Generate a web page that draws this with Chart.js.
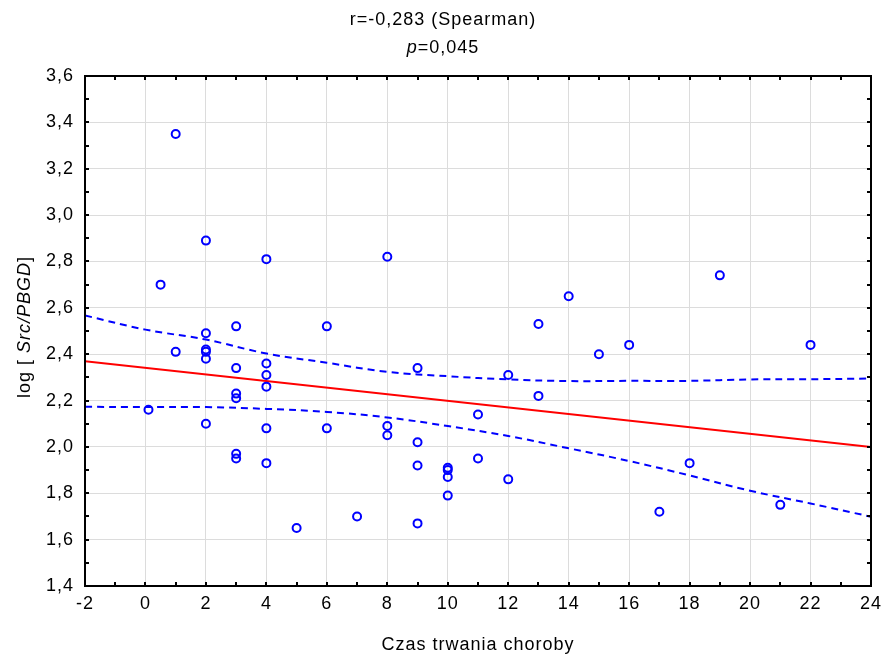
<!DOCTYPE html>
<html>
<head>
<meta charset="utf-8">
<script src="https://cdn.jsdelivr.net/npm/chart.js@4.4.1/dist/chart.umd.min.js"></script>
<style>
  html, body { margin: 0; padding: 0; background: #fff; }
  #wrap { width: 886px; height: 658px; }
</style>
</head>
<body>
<div id="wrap"><canvas id="chart"></canvas></div>
<script>
// dane
const czas = [0.1, 0.5, 1, 1, 2, 2, 2, 2, 2, 2, 3, 3, 3, 3, 3, 3, 4, 4, 4, 4, 4, 4,
  5, 6, 6, 7, 8, 8, 8, 9, 9, 9, 9, 10, 10, 10, 10, 11, 11, 12, 12, 13, 13, 14, 15,
  16, 17, 18, 19, 21, 22];
const logSrc = [2.16, 2.70, 3.35, 2.41, 2.89, 2.49, 2.42, 2.41, 2.38, 2.10, 2.52, 2.34,
  2.23, 2.21, 1.97, 1.95, 2.81, 2.36, 2.31, 2.26, 2.08, 1.93, 1.65, 2.52, 2.08, 1.70,
  2.82, 2.09, 2.05, 2.34, 2.02, 1.92, 1.67, 1.91, 1.90, 1.87, 1.79, 2.14, 1.95, 2.31,
  1.86, 2.53, 2.22, 2.65, 2.40, 2.44, 1.72, 1.93, 2.74, 1.75, 2.44];

// prosta regresji (końce)
const regX = [-2, 24];
const regY = [2.37, 2.00];

// przedział ufności 95%
const bandX = [-2, 0, 2, 4, 6, 8, 10, 12, 14, 16, 18, 20, 22, 24];
const bandUpper = [2.567, 2.506, 2.463, 2.403, 2.363, 2.324, 2.305, 2.291, 2.284, 2.285, 2.285, 2.291, 2.292, 2.295];
const bandLower = [2.173, 2.172, 2.172, 2.164, 2.151, 2.127, 2.090, 2.047, 1.994, 1.939, 1.877, 1.811, 1.756, 1.699];

const FONT = '"Liberation Sans", Arial, sans-serif';
const SIZE = 18;
const SPACING = '1px';

const toPts = (xs, ys) => xs.map((x, i) => ({ x: x, y: ys[i] }));

// rysuje tekst z częściami kursywą, wyśrodkowany w (0,0) bieżącego układu
function drawMixed(ctx, parts, size) {
  let total = 0;
  parts.forEach(p => {
    ctx.font = (p.italic ? 'italic ' : '') + size + 'px ' + FONT;
    p.w = ctx.measureText(p.text).width;
    total += p.w;
  });
  let x = -total / 2;
  ctx.textAlign = 'left';
  parts.forEach(p => {
    ctx.font = (p.italic ? 'italic ' : '') + size + 'px ' + FONT;
    ctx.fillText(p.text, x, 0);
    x += p.w;
  });
}

const decor = {
  id: 'decor',
  beforeLayout(chart) { chart.ctx.letterSpacing = SPACING; },
  beforeDraw(chart) { chart.ctx.letterSpacing = SPACING; },
  afterDraw(chart) {
    const ctx = chart.ctx;
    const a = chart.chartArea;
    const xs = chart.scales.x, ys = chart.scales.y;
    ctx.save();
    ctx.letterSpacing = SPACING;
    ctx.fillStyle = '#000';
    ctx.textBaseline = 'middle';

    // tytuł
    ctx.save();
    ctx.translate(chart.width / 2, 20);
    drawMixed(ctx, [{ text: 'r=-0,283 (Spearman)' }], SIZE);
    ctx.restore();
    ctx.save();
    ctx.translate(chart.width / 2, 48);
    drawMixed(ctx, [{ text: 'p', italic: true }, { text: '=0,045' }], SIZE);
    ctx.restore();

    // opis osi X
    ctx.save();
    ctx.translate((a.left + a.right) / 2, 645);
    drawMixed(ctx, [{ text: 'Czas trwania choroby' }], SIZE);
    ctx.restore();

    // opis osi Y
    ctx.save();
    ctx.translate(25, (a.top + a.bottom) / 2 - 4);
    ctx.rotate(-Math.PI / 2);
    drawMixed(ctx, [{ text: 'log [ ' }, { text: 'Src/PBGD', italic: true }, { text: ']' }], SIZE);
    ctx.restore();

    // ramka
    ctx.strokeStyle = '#000';
    ctx.lineWidth = 2;
    ctx.strokeRect(a.left, a.top, a.right - a.left, a.bottom - a.top);

    // znaczniki do wewnątrz
    ctx.beginPath();
    for (let v = xs.min; v <= xs.max + 1e-9; v += 1) {
      const px = Math.round(xs.getPixelForValue(v));
      ctx.moveTo(px, a.bottom); ctx.lineTo(px, a.bottom - 4);
      ctx.moveTo(px, a.top); ctx.lineTo(px, a.top + 4);
    }
    for (let i = 0; i <= Math.round((ys.max - ys.min) / 0.1); i++) {
      const py = Math.round(ys.getPixelForValue(ys.min + i * 0.1));
      ctx.moveTo(a.left, py); ctx.lineTo(a.left + 4, py);
      ctx.moveTo(a.right, py); ctx.lineTo(a.right - 4, py);
    }
    ctx.stroke();
    ctx.restore();
  }
};

new Chart(document.getElementById('chart'), {
  type: 'scatter',
  data: {
    datasets: [
      {
        label: 'dane',
        data: toPts(czas, logSrc),
        pointStyle: 'circle',
        pointRadius: 4,
        pointBorderWidth: 2,
        borderColor: '#0000ff',
        backgroundColor: 'rgba(0,0,0,0)'
      },
      {
        label: 'regresja',
        data: toPts(regX, regY),
        showLine: true,
        pointRadius: 0,
        borderColor: '#ff0000',
        borderWidth: 2
      },
      {
        label: 'górna granica',
        data: toPts(bandX, bandUpper),
        showLine: true,
        pointRadius: 0,
        tension: 0.4,
        borderColor: '#0000ff',
        borderWidth: 2,
        borderDash: [7, 5]
      },
      {
        label: 'dolna granica',
        data: toPts(bandX, bandLower),
        showLine: true,
        pointRadius: 0,
        tension: 0.4,
        borderColor: '#0000ff',
        borderWidth: 2,
        borderDash: [7, 5]
      }
    ]
  },
  options: {
    responsive: true,
    maintainAspectRatio: false,
    animation: false,
    layout: { padding: { top: 76, right: 15, left: 0, bottom: 0 } },
    plugins: {
      legend: { display: false },
      tooltip: { enabled: false },
      title: { display: false }
    },
    scales: {
      x: {
        type: 'linear',
        min: -2,
        max: 24,
        afterFit: s => { s.height = 72; s.paddingLeft = 0; s.paddingRight = 0; },
        border: { display: false },
        grid: { color: '#dcdcdc', lineWidth: 1, drawTicks: false },
        ticks: {
          stepSize: 2,
          padding: 7,
          color: '#000',
          font: { family: FONT, size: SIZE },
          callback: v => String(v)
        }
      },
      y: {
        type: 'linear',
        min: 1.4,
        max: 3.6,
        afterFit: s => { s.width = 85; s.paddingTop = 0; s.paddingBottom = 0; },
        border: { display: false },
        grid: { color: '#dcdcdc', lineWidth: 1, drawTicks: false },
        ticks: {
          stepSize: 0.2,
          padding: 11,
          color: '#000',
          font: { family: FONT, size: SIZE },
          callback: v => v.toFixed(1).replace('.', ',')
        }
      }
    }
  },
  plugins: [decor]
});
</script>
</body>
</html>
